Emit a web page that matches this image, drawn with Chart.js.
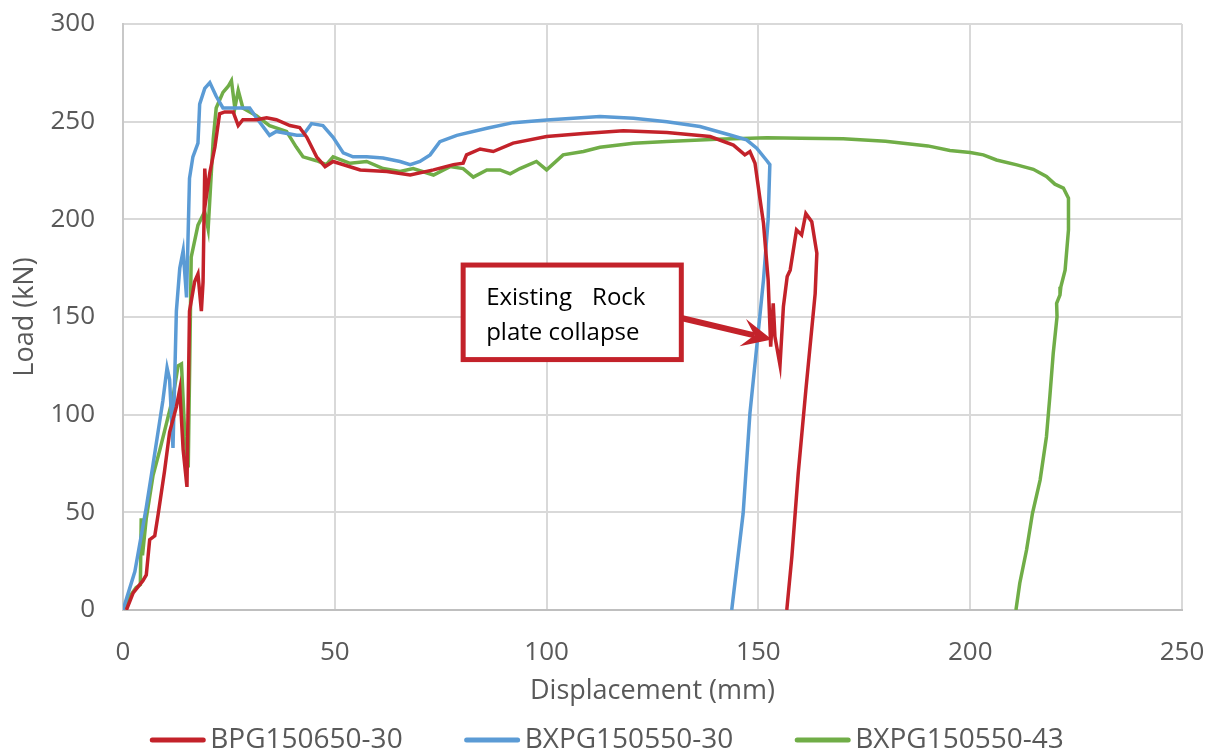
<!DOCTYPE html>
<html>
<head>
<meta charset="utf-8">
<script src="https://cdn.jsdelivr.net/npm/chart.js@4.4.1/dist/chart.umd.min.js"></script>
<style>
  html, body { margin: 0; padding: 0; background: #fff; }
  #wrap { width: 1214px; height: 751px; }
</style>
</head>
<body>
<div id="wrap"><canvas id="myChart-load"></canvas></div>
<script>
// Series names
const seriesNames = ['BPG150650-30', 'BXPG150550-30', 'BXPG150550-43'];

// BPG150650-30 (red)
const redDisp = [0.8, 2.4, 4.7, 5.5, 6.3, 7.5, 8.3, 9.8, 11, 12.6, 13.4, 14.2, 15.1, 15.7, 16.9, 17.7, 18.5, 18.9, 19.3, 19.7, 20.5, 21.7, 22.8, 24, 26, 27.2, 28.3, 31.5, 33.9, 36.2, 39.4, 41.7, 43.4, 45.7, 47.7, 49.6, 56, 62.3, 67.8, 73.3, 78, 80.3, 81.1, 84.3, 87.4, 92.1, 100, 108.7, 118.1, 128.4, 138.6, 144.1, 146.8, 148, 149.2, 150.4, 151.2, 152.3, 152.9, 153.5, 153.9, 155.1, 155.9, 156.8, 157.5, 159, 160.2, 161.2, 162.6, 163.8, 163.4, 161.2, 159.4, 157.9, 156.7];
const redLoad = [0, 8.8, 15, 18, 36, 38, 49, 71, 91, 104, 113, 82, 63, 153, 168, 172, 153, 168, 226, 212, 224, 237, 254, 255, 255, 248, 251, 251, 252, 251, 248, 247, 242, 232, 227, 229.6, 225.3, 224.5, 222.7, 225.3, 228, 228.7, 233, 236, 234.7, 239, 242.4, 244, 245.4, 244.4, 242.4, 238, 233, 234.7, 228.7, 210, 198, 169, 134.8, 157, 140, 125.4, 155.3, 170.7, 174, 194.6, 192, 203, 198.8, 182.6, 162, 112.6, 70, 27.3, 0];

// BXPG150550-30 (blue)
const blueDisp = [0, 2.8, 5.5, 7.1, 9.4, 10.4, 11, 11.8, 12.6, 13.4, 14.2, 15, 15.7, 16.5, 17.7, 18.1, 19.3, 20.5, 22, 23.6, 26.8, 29.9, 31.5, 34.6, 36.2, 41, 42.5, 44.5, 47.2, 49.6, 52, 54.3, 57.5, 61.4, 65.4, 67.8, 70.1, 72.5, 74.8, 78.8, 85.9, 92.1, 100, 112.6, 120.5, 128.4, 136.2, 143.3, 147.2, 149.6, 152, 152.7, 152.3, 151.2, 150, 148, 146.4, 143.7];
const blueLoad = [0, 19.7, 52.6, 74.6, 107, 124, 118, 83, 153, 175, 184, 160, 221, 232, 239, 259, 267, 270, 263, 257, 257, 257, 252, 243, 245, 243, 243, 249, 248, 242, 234, 232, 232, 231.4, 229.6, 228, 229.6, 233, 239.8, 243, 246.6, 249.5, 250.9, 252.6, 251.8, 250, 247.5, 243.2, 240.7, 236.4, 230, 228, 200, 169, 143, 100.7, 49.5, 0];

// BXPG150550-43 (green)
const greenDisp = [0, 1.6, 3.1, 4.1, 4.3, 4.6, 5.5, 7.1, 8.7, 10.2, 11.8, 13, 13.8, 14.6, 15.4, 16.1, 17.7, 19.3, 20.1, 21.3, 22, 23.6, 24.8, 25.6, 26.4, 27.2, 28.3, 31.5, 34.6, 38.6, 40.9, 42.5, 45.7, 48, 49.6, 53.6, 57.5, 61.4, 65.4, 68.5, 73.3, 77.2, 80.3, 82.7, 85.9, 89, 91.4, 93.7, 97.6, 100, 103.9, 108.7, 112.6, 120.5, 128.4, 140.1, 152, 160, 170, 180, 190, 195.2, 200, 203.1, 206.2, 211, 214.9, 218, 220, 222, 223.2, 223.2, 222.4, 221.4, 221.2, 220.4, 220.5, 219.6, 218.8, 218, 216.5, 214.7, 213.3, 211.7, 210.8];
const greenLoad = [0, 7, 11.5, 13, 47, 28, 47, 69, 82, 95, 109, 125, 126, 89, 73, 180.6, 197, 204, 195, 241, 257, 265, 268, 271, 257, 266, 257, 253, 248, 245, 237, 232, 230, 228, 232, 228.7, 229.6, 226, 224.5, 226, 222.7, 227, 226, 221.6, 225.3, 225.3, 223.3, 226, 229.6, 225.3, 233, 234.7, 236.9, 239, 239.8, 241, 241.8, 241.5, 241.3, 240, 237.6, 235.2, 234.2, 233, 230.4, 227.9, 225.6, 221.9, 218, 216, 210.8, 194.6, 174, 165.5, 161.3, 157, 150.2, 131.4, 109.2, 88.7, 66.5, 49.5, 30.7, 13.7, 0];

// Axis ticks
const xTicks = [0, 50, 100, 150, 200, 250];
const yTicks = [0, 50, 100, 150, 200, 250, 300];

const colors = ['#C3222A', '#5B9BD5', '#70AD47'];
const FONT = "'Open Sans', 'Noto Sans', sans-serif";
const GREY = '#595959';

function toPoints(xs, ys) {
    return xs.map((x, i) => ({ x: x, y: ys[i] }));
}

// legend drawn under the x axis title
const bottomLegend = {
    id: 'bottomLegend',
    afterDraw(chart) {
        const c = chart.ctx;
        const lineLen = 55, gapText = 5, gapItem = 62, yc = 740;
        c.save();
        c.font = '28px ' + FONT;
        c.textBaseline = 'middle';
        const widths = chart.data.datasets.map(d => lineLen + gapText + c.measureText(d.label).width);
        const total = widths.reduce((a, b) => a + b, 0) + gapItem * (widths.length - 1);
        let x = (chart.width - total) / 2;
        chart.data.datasets.forEach((d, i) => {
            c.strokeStyle = d.borderColor;
            c.lineWidth = 5;
            c.lineCap = 'round';
            c.beginPath();
            c.moveTo(x + 2, yc);
            c.lineTo(x + lineLen - 2, yc);
            c.stroke();
            c.fillStyle = GREY;
            c.fillText(d.label, x + lineLen + gapText, yc);
            x += widths[i] + gapItem;
        });
        c.restore();
    }
};

// callout box with arrow
const callout = {
    id: 'callout',
    afterDatasetsDraw(chart) {
        const xs = chart.scales.x, ys = chart.scales.y, c = chart.ctx;
        const left = xs.getPixelForValue(80.3), right = xs.getPixelForValue(131.8);
        const top = ys.getPixelForValue(176.6), bottom = ys.getPixelForValue(128.2);
        const red = colors[0];
        c.save();
        // arrow
        const sx = right, sy = ys.getPixelForValue(149.5);
        const tx = xs.getPixelForValue(153.2), ty = ys.getPixelForValue(138.5);
        const ang = Math.atan2(ty - sy, tx - sx);
        const L = 26, W = 14;
        const bx = tx - L * Math.cos(ang), by = ty - L * Math.sin(ang);
        c.strokeStyle = red;
        c.lineWidth = 6;
        c.beginPath();
        c.moveTo(sx, sy);
        c.lineTo(bx + 8 * Math.cos(ang), by + 8 * Math.sin(ang));
        c.stroke();
        c.fillStyle = red;
        c.beginPath();
        c.moveTo(tx, ty);
        c.lineTo(bx - W * Math.sin(ang) - 4 * Math.cos(ang), by + W * Math.cos(ang) - 4 * Math.sin(ang));
        c.lineTo(bx + 8 * Math.cos(ang), by + 8 * Math.sin(ang));
        c.lineTo(bx + W * Math.sin(ang) - 4 * Math.cos(ang), by - W * Math.cos(ang) - 4 * Math.sin(ang));
        c.closePath();
        c.fill();
        // box
        c.fillStyle = '#fff';
        c.fillRect(left, top, right - left, bottom - top);
        c.lineWidth = 5;
        c.strokeRect(left, top, right - left, bottom - top);
        // text
        c.fillStyle = '#000';
        c.font = '24px ' + FONT;
        c.textBaseline = 'alphabetic';
        const tx0 = left + 23;
        const w2 = c.measureText('plate collapse').width;
        c.textAlign = 'left';
        c.fillText('Existing', tx0, top + 40);
        c.textAlign = 'right';
        c.fillText('Rock', tx0 + w2 + 6, top + 40);
        c.textAlign = 'left';
        c.fillText('plate collapse', tx0, top + 75);
        c.restore();
    }
};

const ctx1 = document.getElementById('myChart-load').getContext('2d');
const myChart1 = new Chart(ctx1, {
    type: 'scatter',
    data: {
        datasets: [
            { label: seriesNames[0], data: toPoints(redDisp, redLoad), borderColor: colors[0] },
            { label: seriesNames[1], data: toPoints(blueDisp, blueLoad), borderColor: colors[1] },
            { label: seriesNames[2], data: toPoints(greenDisp, greenLoad), borderColor: colors[2] }
        ].map(d => Object.assign(d, {
            showLine: true,
            pointRadius: 0,
            borderWidth: 3.5,
            tension: 0,
            backgroundColor: d.borderColor
        }))
    },
    options: {
        responsive: true,
        maintainAspectRatio: false,
        animation: false,
        layout: { padding: { top: 24, right: 32, left: 0, bottom: 0 } },
        plugins: {
            legend: { display: false },
            tooltip: { enabled: false }
        },
        scales: {
            x: {
                type: 'linear',
                min: 0,
                max: 250,
                afterBuildTicks: s => { s.ticks = xTicks.map(v => ({ value: v })); },
                afterFit: s => { s.height = 141; s.paddingLeft = 0; s.paddingRight = 0; },
                ticks: { color: GREY, font: { family: FONT, size: 26 }, padding: 27, maxRotation: 0 },
                grid: { color: '#d9d9d9', lineWidth: 2, drawTicks: false },
                border: { color: '#bfbfbf', width: 2 },
                title: {
                    display: true,
                    text: 'Displacement (mm)',
                    color: GREY,
                    font: { family: FONT, size: 27 },
                    padding: { top: 0, bottom: 43 }
                }
            },
            y: {
                type: 'linear',
                min: 0,
                max: 300,
                afterBuildTicks: s => { s.ticks = yTicks.map(v => ({ value: v })); },
                afterFit: s => { s.width = 123; s.paddingTop = 0; s.paddingBottom = 0; },
                ticks: { color: GREY, font: { family: FONT, size: 26 }, padding: 28 },
                grid: { color: '#d9d9d9', lineWidth: 2, drawTicks: false },
                border: { color: '#c8c8c8', width: 2 },
                title: {
                    display: true,
                    text: 'Load (kN)',
                    color: GREY,
                    font: { family: FONT, size: 27 },
                    padding: { top: 9, bottom: 0 }
                }
            }
        }
    },
    plugins: [callout, bottomLegend]
});
</script>
</body>
</html>
